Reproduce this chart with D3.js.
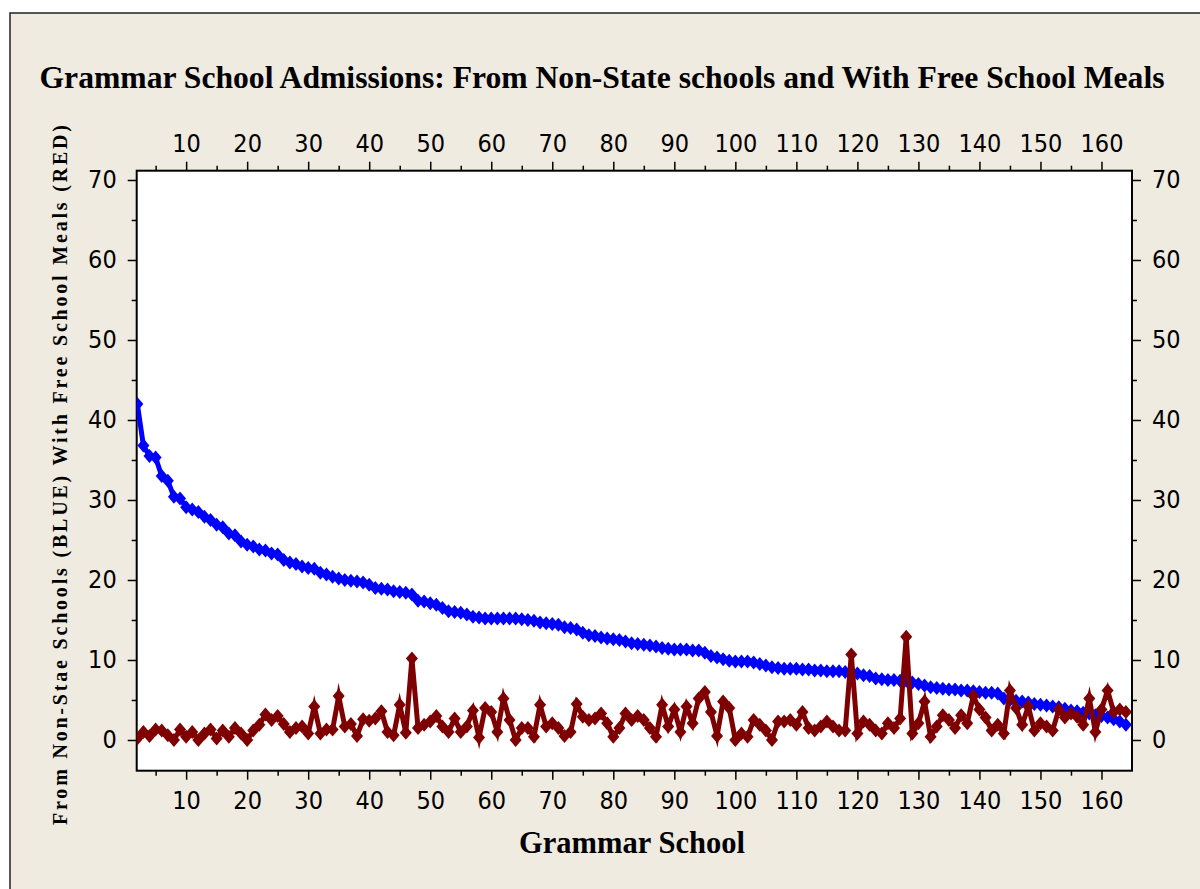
<!DOCTYPE html>
<html><head><meta charset="utf-8">
<script src="https://cdn.jsdelivr.net/npm/d3@7"></script>
<style>html,body{margin:0;padding:0;background:#fff;} svg{display:block;}</style>
</head><body>
<svg id="chart" width="1200" height="889"></svg>
<script>
const chartTitle = "Grammar School Admissions: From Non-State schools and With Free School Meals";
const xTitle = "Grammar School";
const yTitle = "From Non-Stae Schools (BLUE) With Free School Meals (RED)";
const xTicks = [10,20,30,40,50,60,70,80,90,100,110,120,130,140,150,160];
const xMinorTicks = [5,15,25,35,45,55,65,75,85,95,105,115,125,135,145,155];
const yTicks = [0,10,20,30,40,50,60,70];
const yMinorTicks = [5,15,25,35,45,55,65];
const firstSchool = 2;

// From Non-State schools (blue), schools 2..164
const nonStateBlue = [
 42.0,36.8,35.5,35.3,33.0,32.4,30.4,30.2,29.1,28.8,
 28.5,27.9,27.5,26.9,26.6,25.8,25.6,24.8,24.4,24.2,
 23.8,23.7,23.3,23.2,22.5,22.2,22.0,21.7,21.5,21.4,
 20.9,20.7,20.4,20.2,20.0,19.9,19.8,19.7,19.4,19.0,
 18.9,18.8,18.6,18.5,18.4,18.2,17.4,17.3,17.1,16.9,
 16.5,16.1,16.0,15.9,15.7,15.4,15.3,15.2,15.2,15.2,
 15.2,15.2,15.2,15.1,15.0,14.9,14.7,14.6,14.5,14.4,
 14.1,14.0,13.8,13.4,13.1,13.0,12.8,12.7,12.6,12.5,
 12.3,12.1,12.0,11.9,11.8,11.7,11.5,11.4,11.3,11.3,
 11.3,11.2,11.2,10.9,10.5,10.3,10.1,9.9,9.8,9.8,
 9.8,9.7,9.5,9.3,9.1,9.0,8.9,8.9,8.9,8.8,
 8.8,8.7,8.7,8.6,8.6,8.6,8.5,8.5,8.3,8.1,
 8.0,7.7,7.6,7.5,7.5,7.4,7.4,7.2,7.0,6.8,
 6.6,6.5,6.4,6.3,6.3,6.2,6.2,6.1,6.0,5.9,
 5.9,5.8,5.2,5.0,4.9,4.8,4.7,4.5,4.4,4.3,
 4.2,4.1,3.9,3.7,3.6,3.4,3.3,3.1,3.0,2.8,
 2.6,2.3,1.9
];

// With Free School Meals (red), schools 2..164
const freeMealsRed = [
 0.2,1.0,0.5,1.3,1.2,0.6,0.0,1.3,0.4,1.0,
 0.0,0.8,1.3,0.2,1.2,0.4,1.5,0.8,0.0,1.2,
 1.9,3.2,2.5,3.0,2.0,1.0,1.5,1.7,0.8,4.2,
 0.8,1.3,1.3,5.5,1.7,2.0,0.5,2.6,2.4,2.7,
 3.6,1.0,0.6,4.4,0.9,10.2,1.5,1.9,2.3,3.0,
 1.7,1.0,2.7,1.0,1.7,3.7,0.3,4.0,3.5,1.0,
 5.2,2.5,0.0,1.5,1.5,0.4,4.4,1.7,2.1,1.5,
 0.5,1.0,4.5,2.9,2.5,2.7,3.3,2.1,0.4,1.5,
 3.3,2.5,3.0,2.5,1.5,0.4,4.4,1.7,3.8,1.0,
 4.2,2.1,5.2,6.0,3.5,0.5,4.8,4.0,0.0,0.8,
 0.4,2.5,1.9,1.2,0.0,2.3,2.3,2.5,1.9,3.5,
 1.5,1.2,1.7,2.3,1.7,1.2,1.2,10.7,0.8,2.3,
 1.9,1.2,0.8,2.1,1.5,2.7,12.9,0.8,2.1,4.8,
 0.4,1.7,3.1,2.5,1.5,3.1,2.1,5.5,3.8,2.8,
 1.2,1.9,0.8,6.2,4.0,1.9,4.2,1.2,2.1,1.7,
 1.2,3.8,2.8,3.3,2.9,1.9,5.2,1.0,3.8,6.2,
 3.5,3.8,3.5
];

const schools = nonStateBlue.map((_, i) => firstSchool + i);

const svg = d3.select("#chart");
const W = 1200, H = 889;
const plot = {left: 136.7, right: 1132, top: 170.7, bottom: 770.7};

// frame
svg.append("rect").attr("x", 10).attr("y", 13).attr("width", W + 20).attr("height", H + 20)
  .attr("fill", "#EFEBE1").attr("stroke", "#222").attr("stroke-width", 1.5);

const x = d3.scaleLinear().domain([1.9, 165]).range([plot.left, plot.right]);
const y = d3.scaleLinear().domain([-3.84, 71.16]).range([plot.bottom, plot.top]);

svg.append("rect").attr("x", plot.left).attr("y", plot.top)
  .attr("width", plot.right - plot.left).attr("height", plot.bottom - plot.top)
  .attr("fill", "#fff");

const tickFont = "'DejaVu Sans Condensed','DejaVu Sans',sans-serif";

function styleAxis(g) {
  g.select(".domain").remove();
  g.selectAll("line").attr("stroke", "#000").attr("stroke-width", 1.5);
  g.selectAll("text").attr("fill", "#000").style("font-family", tickFont)
    .style("font-size", "25px").style("font-stretch", "condensed");
}

// major axes
svg.append("g").attr("transform", `translate(0,${plot.bottom})`)
  .call(d3.axisBottom(x).tickValues(xTicks).tickSize(9).tickPadding(12).tickSizeOuter(0)).call(styleAxis);
svg.append("g").attr("transform", `translate(0,${plot.top})`)
  .call(d3.axisTop(x).tickValues(xTicks).tickSize(9).tickPadding(10).tickSizeOuter(0)).call(styleAxis);
svg.append("g").attr("transform", `translate(${plot.left},0)`)
  .call(d3.axisLeft(y).tickValues(yTicks).tickSize(9).tickPadding(11).tickSizeOuter(0)).call(styleAxis);
svg.append("g").attr("transform", `translate(${plot.right},0)`)
  .call(d3.axisRight(y).tickValues(yTicks).tickSize(9).tickPadding(11).tickSizeOuter(0)).call(styleAxis);

// minor ticks
svg.append("g").attr("transform", `translate(0,${plot.bottom})`)
  .call(d3.axisBottom(x).tickValues(xMinorTicks).tickSize(5).tickFormat("").tickSizeOuter(0)).call(styleAxis);
svg.append("g").attr("transform", `translate(0,${plot.top})`)
  .call(d3.axisTop(x).tickValues(xMinorTicks).tickSize(5).tickFormat("").tickSizeOuter(0)).call(styleAxis);
svg.append("g").attr("transform", `translate(${plot.left},0)`)
  .call(d3.axisLeft(y).tickValues(yMinorTicks).tickSize(5).tickFormat("").tickSizeOuter(0)).call(styleAxis);
svg.append("g").attr("transform", `translate(${plot.right},0)`)
  .call(d3.axisRight(y).tickValues(yMinorTicks).tickSize(5).tickFormat("").tickSizeOuter(0)).call(styleAxis);

// plot border
svg.append("rect").attr("x", plot.left).attr("y", plot.top)
  .attr("width", plot.right - plot.left).attr("height", plot.bottom - plot.top)
  .attr("fill", "none").attr("stroke", "#000").attr("stroke-width", 2);

svg.append("clipPath").attr("id", "pclip").append("rect")
  .attr("x", plot.left).attr("y", plot.top)
  .attr("width", plot.right - plot.left).attr("height", plot.bottom - plot.top);

const diamond = "M0,-7L6,0L0,7L-6,0Z";
function drawSeries(values, color) {
  const g = svg.append("g").attr("clip-path", "url(#pclip)");
  const line = d3.line().x((d, i) => x(schools[i])).y(d => y(d));
  g.append("path").datum(values).attr("d", line).attr("fill", "none")
    .attr("stroke", color).attr("stroke-width", 5).attr("stroke-linejoin", "miter")
    .attr("stroke-miterlimit", 6);
  g.selectAll("path.m").data(values).enter().append("path").attr("class", "m")
    .attr("d", diamond).attr("fill", color)
    .attr("transform", (d, i) => `translate(${x(schools[i])},${y(d)})`);
}
drawSeries(nonStateBlue, "#0000FF");
drawSeries(freeMealsRed, "#7F0000");

// titles
svg.append("text").attr("x", 602).attr("y", 88).attr("text-anchor", "middle")
  .attr("textLength", 1125).attr("lengthAdjust", "spacingAndGlyphs")
  .style("font-family", "'Liberation Serif','Times New Roman',serif")
  .style("font-weight", "bold").style("font-size", "31px").text(chartTitle);

svg.append("text").attr("x", 632).attr("y", 853).attr("text-anchor", "middle")
  .attr("textLength", 226).attr("lengthAdjust", "spacingAndGlyphs")
  .style("font-family", "'Liberation Serif','Times New Roman',serif")
  .style("font-weight", "bold").style("font-size", "31px").text(xTitle);

svg.append("text").attr("transform", "translate(67,475) rotate(-90)").attr("text-anchor", "middle")
  .attr("textLength", 700).attr("lengthAdjust", "spacing")
  .style("font-family", "'Liberation Serif','Times New Roman',serif")
  .style("font-weight", "bold").style("font-size", "20px").text(yTitle);
</script>
</body></html>
